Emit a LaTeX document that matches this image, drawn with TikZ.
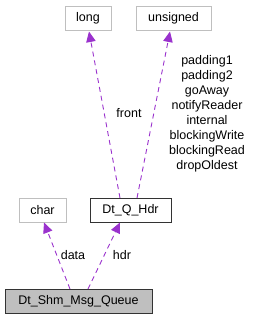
\documentclass[tikz,border=0pt]{standalone}
\usepackage{fontspec}
\setmainfont{Liberation Sans}
\usetikzlibrary{arrows.meta}
\definecolor{edgepurple}{HTML}{9A32CD}
\definecolor{lightborder}{HTML}{BFBFBF}
\tikzset{
  box/.style={draw=#1, line width=0.9pt, minimum height=24pt, inner xsep=0pt, font=\fontsize{12.5}{14}\selectfont, text=black},
  rel/.style={draw=edgepurple, line width=0.9pt, dash pattern=on 5pt off 4pt, -{Triangle[length=10.5pt,width=9.5pt]}},
  lbl/.style={font=\fontsize{12.5}{15}\selectfont, text=black, inner sep=0pt}
}
\begin{document}
\begin{tikzpicture}[x=1pt,y=-1pt]
\useasboundingbox (0,0) rectangle (252,320);
\node[box=lightborder, minimum width=46pt] (long) at (88,18) {long};
\node[box=lightborder, minimum width=75pt] (uns) at (173.5,18) {unsigned};
\node[box=black!80, minimum width=81pt] (hdr) at (130.5,210) {Dt\_Q\_Hdr};
\node[box=lightborder, minimum width=47pt] (char) at (42.5,210) {char};
\node[box=black!80, fill=lightborder, minimum width=147pt] (shm) at (78.5,301) {Dt\_Shm\_Msg\_Queue};
\coordinate (hdrA) at (120,198);
\coordinate (hdrB) at (137,198);
\coordinate (shmA) at (70,289);
\coordinate (shmB) at (88,289);
\draw[rel] (hdrA) -- (89,31.5);
\draw[rel] (hdrB) -- (170,31.5);
\draw[rel] (shmA) -- (44,222.5);
\draw[rel] (shmB) -- (120,222.5);
\node[lbl] (front) at (129,113) {front};
\node[lbl, align=center] (fl) at (207,113.5) {padding1\\padding2\\goAway\\notifyReader\\internal\\blockingWrite\\blockingRead\\dropOldest};
\node[lbl] (data) at (73,255) {data};
\node[lbl] (hdrl) at (122,255) {hdr};
\end{tikzpicture}
\end{document}
